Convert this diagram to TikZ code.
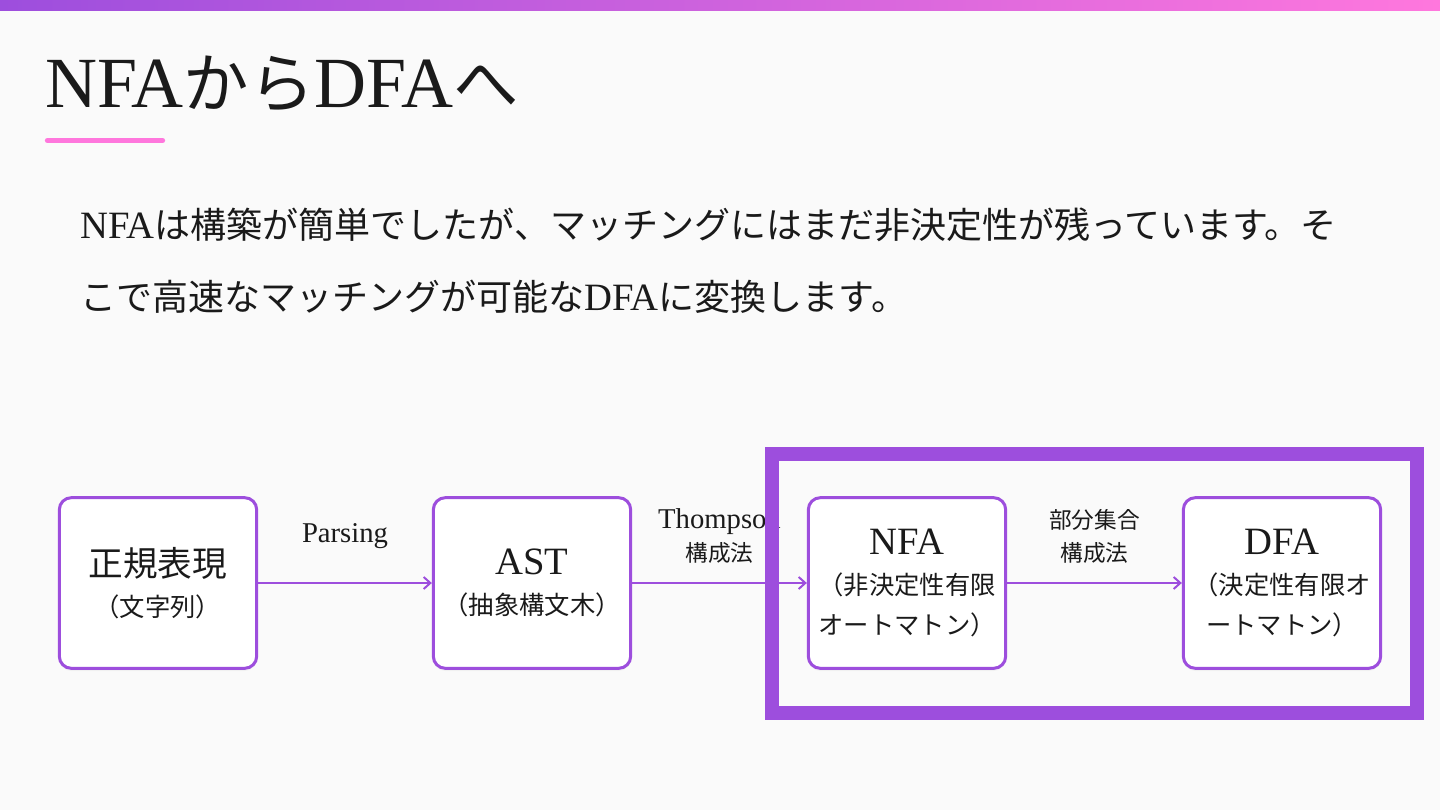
\documentclass[tikz,border=0pt]{standalone}
\usepackage{fontspec}
\setmainfont{Liberation Serif}
\newfontfamily\jp{Noto Sans CJK JP}
\usetikzlibrary{arrows.meta,shadows}
\definecolor{accent}{RGB}{157,78,221}
\definecolor{accentpink}{RGB}{255,119,221}
\definecolor{slidebg}{RGB}{250,250,250}
\definecolor{ink}{RGB}{26,26,26}
\newcommand{\headjp}{\jp\fontsize{26}{30}\selectfont}
\newcommand{\headlat}{\rmfamily\fontsize{29}{30}\selectfont}
\newcommand{\lbljp}{\jp\fontsize{17}{25}\selectfont}
\newcommand{\titlejp}{\jp\fontsize{49}{52}\selectfont}

\begin{document}
\begin{tikzpicture}[x=0.75pt,y=-0.75pt,
    stage/.style={draw=accent, line width=2.25pt, fill=white, rounded corners=9pt,
      minimum width=148pt, minimum height=128pt, align=center, text=ink,
      font=\jp\fontsize{19}{30}\selectfont,
      drop shadow={opacity=0.07, shadow xshift=0pt, shadow yshift=-2pt}},
    flow/.style={draw=accent, line width=1.5pt, -{Straight Barb[length=5pt,width=9pt]}},
    lbl/.style={midway, yshift=35pt, align=center, text=ink, font=\fontsize{21.5}{25}\selectfont}]
  % Slide background
  \fill[slidebg] (0,0) rectangle (1440,810);
  \useasboundingbox (0,0) rectangle (1440,810);
  \shade[left color=accent, right color=accentpink] (0,0) rectangle (1440,10);

  % Title
  \node[anchor=base west, inner sep=0, text=ink] (title) at (45,107)
    {\fontsize{54}{60}\selectfont NFA{\titlejp から}DFA{\titlejp へ}};
  \draw[accentpink, line width=4pt, line cap=round] (47.5,140.5) -- (162.5,140.5);

  % Intro text
  \node[anchor=west, inner sep=0, text=ink, font=\jp\fontsize{27}{36}\selectfont] (intro1) at (80,225)
    {{\rmfamily\fontsize{29}{36}\selectfont NFA}は構築が簡単でしたが、マッチングにはまだ非決定性が残っています。そ};
  \node[anchor=west, inner sep=0, text=ink, font=\jp\fontsize{27}{36}\selectfont] (intro2) at (80,297)
    {こで高速なマッチングが可能な{\rmfamily\fontsize{29}{36}\selectfont DFA}に変換します。};

  % Pipeline
  \node[stage] (regex) at (158,583) {{\headjp 正規表現}\\（文字列）};
  \node[stage] (ast) at (532,583) {{\headlat AST}\\（抽象構文木）};
  \node[stage] (nfa) at (907,583) {{\headlat NFA}\\（非決定性有限\\オートマトン）};
  \node[stage] (dfa) at (1282,583) {{\headlat DFA}\\（決定性有限オ\\ートマトン）};

  \draw[flow] (regex) -- node[lbl] {Parsing} (ast);
  \draw[flow] (ast) -- node[lbl] {Thompson\\{\lbljp 構成法}} (nfa);
  \draw[flow] (nfa) -- node[lbl] {{\lbljp 部分集合}\\{\lbljp 構成法}} (dfa);

  % Highlight
  \draw[accent, line width=10.5pt] (772,454) rectangle (1417,713);
\end{tikzpicture}
\end{document}
